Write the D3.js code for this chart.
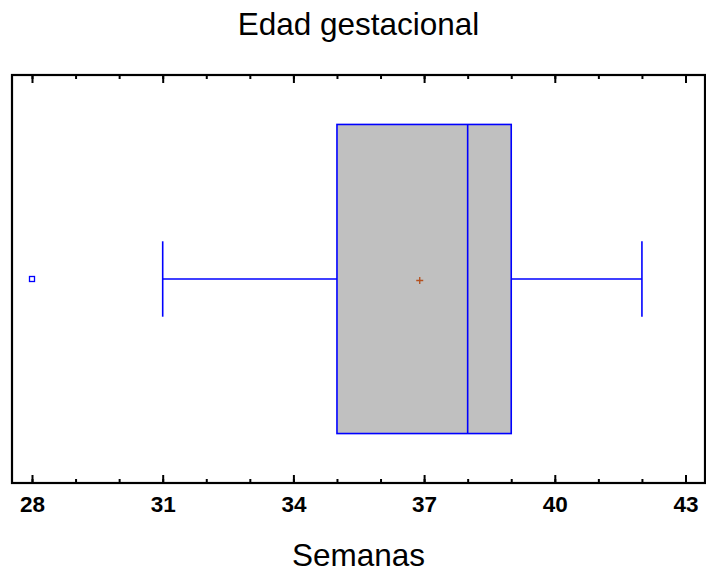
<!DOCTYPE html>
<html>
<head>
<meta charset="utf-8">
<script src="https://cdn.jsdelivr.net/npm/d3@7"></script>
<style>
  html, body { margin: 0; padding: 0; background: #fff; }
  svg { display: block; font-family: "Liberation Sans", Arial, sans-serif; }
</style>
</head>
<body>
<svg id="chart" width="706" height="576"></svg>
<script>
// Box-and-whisker summary of gestational age (weeks)
const title = "Edad gestacional";
const xLabel = "Semanas";
const majorTicks = [28, 31, 34, 37, 40, 43];
const minorTicks = d3.range(28, 44, 1);
const groups = ["Edad gestacional"];
const lowerWhisker = [31];
const q1 = [35];
const median = [38];
const q3 = [39];
const upperWhisker = [42];
const mean = [36.9];
const outliers = [28];

const svg = d3.select("#chart");
const frame = { left: 12, right: 705, top: 75, bottom: 483 };

const x = d3.scaleLinear().domain([28, 43]).range([32, 685.5]);
const y = d3.scaleBand().domain(groups).range([frame.top, frame.bottom]).paddingInner(0).paddingOuter(0.16);

// Title
svg.append("text")
  .attr("x", (frame.left + frame.right) / 2)
  .attr("y", 35)
  .attr("text-anchor", "middle")
  .attr("font-size", 31.5)
  .attr("fill", "#000")
  .text(title);

// Axis label
svg.append("text")
  .attr("x", (frame.left + frame.right) / 2)
  .attr("y", 566)
  .attr("text-anchor", "middle")
  .attr("font-size", 31.5)
  .attr("fill", "#000")
  .text(xLabel);

// Minor ticks (bottom and top, pointing inward)
const minorBottom = d3.axisBottom(x).tickValues(minorTicks).tickSize(-4).tickFormat("");
const minorTop = d3.axisTop(x).tickValues(minorTicks).tickSize(-4).tickFormat("");
svg.append("g").attr("transform", `translate(0,${frame.bottom})`).call(minorBottom)
  .call(g => g.select(".domain").remove())
  .selectAll("line").attr("stroke", "#000").attr("stroke-width", 2);
svg.append("g").attr("transform", `translate(0,${frame.top})`).call(minorTop)
  .call(g => g.select(".domain").remove())
  .selectAll("line").attr("stroke", "#000").attr("stroke-width", 2);

// Major ticks with labels
const majorBottom = d3.axisBottom(x).tickValues(majorTicks).tickSize(-8).tickPadding(0).tickFormat(d3.format("d"));
const gb = svg.append("g").attr("transform", `translate(0,${frame.bottom})`).call(majorBottom);
gb.select(".domain").remove();
gb.selectAll("line").attr("stroke", "#000").attr("stroke-width", 2);
gb.selectAll("text")
  .attr("y", 29)
  .attr("dy", 0)
  .attr("font-size", 22.5)
  .attr("font-weight", "bold")
  .attr("font-family", "Liberation Sans, Arial, sans-serif")
  .attr("fill", "#000");

const majorTop = d3.axisTop(x).tickValues(majorTicks).tickSize(-8).tickFormat("");
svg.append("g").attr("transform", `translate(0,${frame.top})`).call(majorTop)
  .call(g => g.select(".domain").remove())
  .selectAll("line").attr("stroke", "#000").attr("stroke-width", 2);

// Plot frame
svg.append("rect")
  .attr("x", frame.left)
  .attr("y", frame.top)
  .attr("width", frame.right - frame.left)
  .attr("height", frame.bottom - frame.top)
  .attr("fill", "none")
  .attr("stroke", "#000")
  .attr("stroke-width", 2.2);

const blue = "#0000ff";
const g = svg.append("g");

groups.forEach((grp, i) => {
  const top = y(grp);
  const bw = y.bandwidth();
  const cy = top + bw / 2;
  const capHalf = bw * 0.122;

  // whiskers
  g.append("line")
    .attr("x1", x(lowerWhisker[i])).attr("x2", x(q1[i]))
    .attr("y1", cy).attr("y2", cy)
    .attr("stroke", blue).attr("stroke-width", 1.6);
  g.append("line")
    .attr("x1", x(q3[i])).attr("x2", x(upperWhisker[i]))
    .attr("y1", cy).attr("y2", cy)
    .attr("stroke", blue).attr("stroke-width", 1.6);
  [lowerWhisker[i], upperWhisker[i]].forEach(v => {
    g.append("line")
      .attr("x1", x(v)).attr("x2", x(v))
      .attr("y1", cy - capHalf).attr("y2", cy + capHalf)
      .attr("stroke", blue).attr("stroke-width", 1.6);
  });

  // box
  g.append("rect")
    .attr("x", x(q1[i]))
    .attr("y", top)
    .attr("width", x(q3[i]) - x(q1[i]))
    .attr("height", bw)
    .attr("fill", "#c0c0c0")
    .attr("stroke", blue)
    .attr("stroke-width", 1.6);

  // median
  g.append("line")
    .attr("x1", x(median[i])).attr("x2", x(median[i]))
    .attr("y1", top).attr("y2", top + bw)
    .attr("stroke", blue).attr("stroke-width", 1.6);

  // mean marker
  const mx = x(mean[i]);
  g.append("path")
    .attr("d", `M${mx - 3.5},${cy + 1.5}H${mx + 3.5}M${mx},${cy - 2}V${cy + 5}`)
    .attr("stroke", "#b4501e").attr("stroke-width", 1.3).attr("fill", "none");

  // outliers
  g.selectAll(null).data(outliers).enter().append("rect")
    .attr("x", d => x(d) - 2.5)
    .attr("y", cy - 2.5)
    .attr("width", 5)
    .attr("height", 5)
    .attr("fill", "#fff")
    .attr("stroke", blue)
    .attr("stroke-width", 1.3);
});
</script>
</body>
</html>
